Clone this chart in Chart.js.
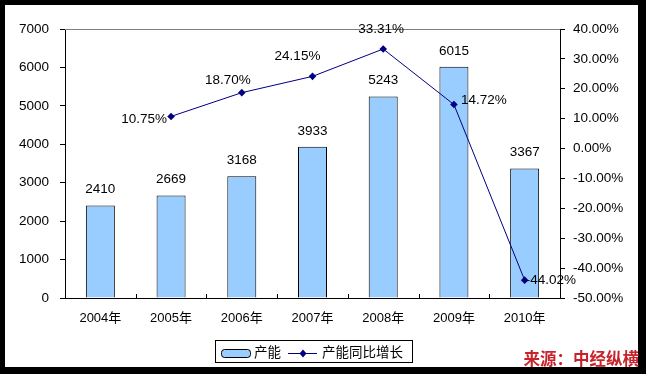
<!DOCTYPE html>
<html>
<head>
<meta charset="utf-8">
<script src="https://cdn.jsdelivr.net/npm/chart.js@4.4.1/dist/chart.umd.min.js"></script>
<style>
  html, body { margin:0; padding:0; background:#000; overflow:hidden; }
  canvas { display:block; }
</style>
</head>
<body>
<canvas id="c" width="646" height="374"></canvas>
<script>
// data
const years = ["2004年","2005年","2006年","2007年","2008年","2009年","2010年"];
const capacity = [2410, 2669, 3168, 3933, 5243, 6015, 3367];
const growth = [null, 10.75, 18.70, 24.15, 33.31, 14.72, -44.02];
const leftTicks = [0, 7000, 1000];
const rightTicks = [-50, 40, 10];
const sourceText = "来源：中经纵横";

// label placement for line points (dx, dy, align)
const growthLabelPos = [null, [-4,3,"right"], [-14,-12,"center"], [-15,-20,"center"], [-2,-20,"center"], [7,-4,"left"], [1,0,"left"]];

const FONT = '"Liberation Sans", Arial, "Noto Sans CJK SC", sans-serif';
Chart.defaults.font.family = FONT;
Chart.defaults.color = "#000";

const decor = {
  id:"decor",
  beforeDraw(chart){
    const c = chart.ctx;
    c.save();
    c.fillStyle = "#000";
    c.fillRect(0,0,chart.width,chart.height);
    c.fillStyle = "#fff";
    c.fillRect(5,5,633,362);
    c.restore();
  },
  afterDatasetsDraw(chart){
    const c = chart.ctx, a = chart.chartArea;
    c.save();
    // top border of plot area
    c.strokeStyle = "#808080"; c.lineWidth = 1;
    c.beginPath(); c.moveTo(a.left, a.top+0.5); c.lineTo(a.right, a.top+0.5); c.stroke();
    // inner x ticks between categories
    c.strokeStyle = "#000";
    const n = years.length, w = (a.right-a.left)/n;
    for(let i=1;i<n;i++){
      const x = Math.round(a.left + i*w)+0.5;
      c.beginPath(); c.moveTo(x, a.bottom); c.lineTo(x, a.bottom-4); c.stroke();
    }
    // bar labels
    c.font = "13.5px " + FONT; c.fillStyle = "#000"; c.textBaseline = "middle"; c.textAlign = "center";
    chart.getDatasetMeta(0).data.forEach((b,i)=>{
      c.fillText(String(capacity[i]), b.x, b.y - 16);
    });
    // line labels
    chart.getDatasetMeta(1).data.forEach((p,i)=>{
      if(growth[i]===null) return;
      const pos = growthLabelPos[i];
      c.textAlign = pos[2];
      c.fillText(growth[i].toFixed(2)+"%", p.x+pos[0], p.y+pos[1]);
    });
    c.restore();
  },
  afterDraw(chart){
    const c = chart.ctx;
    c.save();
    // legend
    c.strokeStyle = "#000"; c.lineWidth = 1;
    c.strokeRect(215.5, 340.5, 197, 22);
    c.fillStyle = "#99CCFF";
    c.beginPath(); c.roundRect(221.5, 349.5, 29, 8, 3); c.fill(); c.stroke();
    c.font = "13.5px " + FONT; c.fillStyle = "#000"; c.textBaseline = "middle"; c.textAlign = "left";
    c.fillText(chart.data.datasets[0].label, 254, 353);
    c.strokeStyle = "#000080";
    c.beginPath(); c.moveTo(288, 353.5); c.lineTo(317, 353.5); c.stroke();
    c.fillStyle = "#000080";
    c.beginPath(); c.moveTo(303,349.5); c.lineTo(306.5,353.5); c.lineTo(303,357.5); c.lineTo(299.5,353.5); c.closePath(); c.fill();
    c.fillStyle = "#000";
    c.fillText(chart.data.datasets[1].label, 322, 353);
    // source
    c.font = "bold 16.5px \"Noto Sans CJK SC\", sans-serif";
    c.fillStyle = "#C8232B"; c.textAlign = "right"; c.textBaseline = "alphabetic";
    c.fillText(sourceText, 639, 365);
    c.restore();
  }
};

new Chart(document.getElementById("c"), {
  type:"bar",
  data:{
    labels: years,
    datasets:[
      { type:"bar", label:"产能", data:capacity, yAxisID:"y", order:1,
        backgroundColor:"#99CCFF", borderColor:"#000", borderWidth:1,
        categoryPercentage:1, barPercentage:0.41 },
      { type:"line", label:"产能同比增长", data:growth, yAxisID:"y1", order:0,
        borderColor:"#000080", borderWidth:1, backgroundColor:"#000080",
        pointStyle:"rectRot", pointRadius:3.8, pointBackgroundColor:"#000080", pointBorderWidth:0,
        tension:0, spanGaps:false }
    ]
  },
  options:{
    responsive:false, animation:false, events:[],
    layout:{ padding:{ top:29, left:0, right:0, bottom:0 } },
    plugins:{ legend:{display:false}, tooltip:{enabled:false} },
    scales:{
      x:{
        grid:{ display:true, offset:true, drawOnChartArea:false, drawTicks:false },
        border:{ color:"#000", width:1 },
        ticks:{ font:{size:13, family:FONT}, padding:13, maxRotation:0 },
        afterFit(s){ s.height = 76; }
      },
      y:{
        position:"left", min:leftTicks[0], max:leftTicks[1],
        grid:{ drawOnChartArea:false, drawTicks:true, tickLength:5, tickColor:"#000" },
        border:{ color:"#000", width:1 },
        ticks:{ stepSize:leftTicks[2], font:{size:13.5}, padding:11, callback:v=>String(v) },
        afterFit(s){ s.width = 65; }
      },
      y1:{
        position:"right", min:rightTicks[0], max:rightTicks[1],
        grid:{ drawOnChartArea:false, drawTicks:true, tickLength:5, tickColor:"#000" },
        border:{ color:"#000", width:1 },
        ticks:{ stepSize:rightTicks[2], font:{size:13.5}, padding:8, callback:v=>v.toFixed(2)+"%" },
        afterFit(s){ s.width = 86; }
      }
    }
  },
  plugins:[decor]
});
</script>
</body>
</html>
